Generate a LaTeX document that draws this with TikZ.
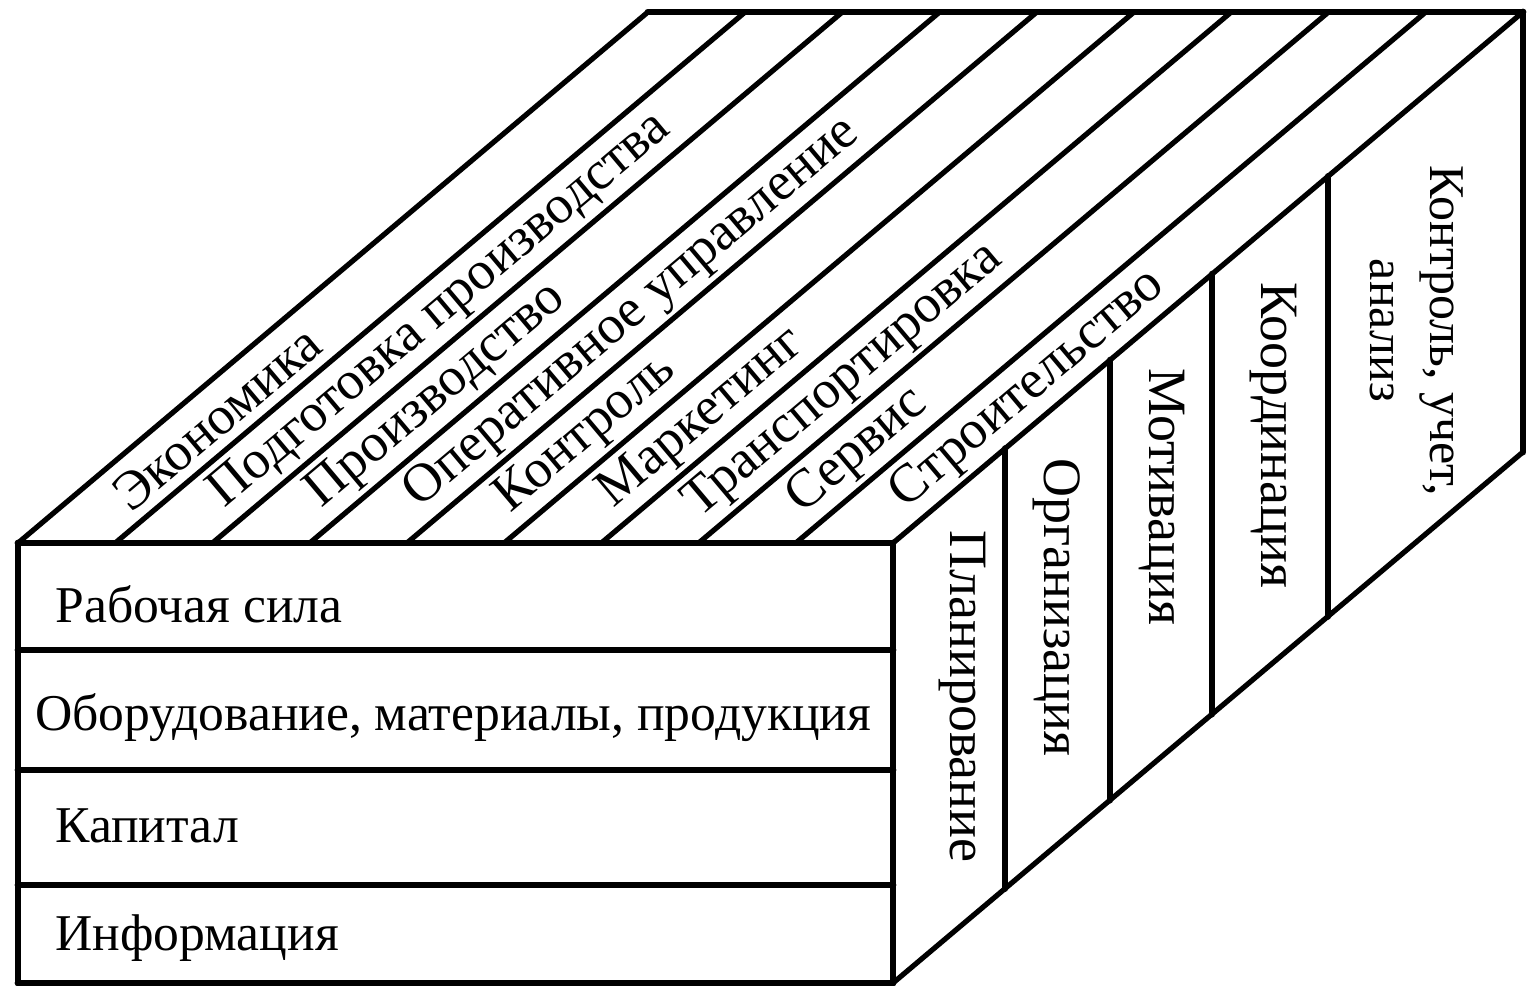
\documentclass[tikz,border=0pt]{standalone}
\usepackage{fontspec}
\setmainfont{Liberation Serif}
\usetikzlibrary{calc}
\tikzstyle{none}=[inner sep=0pt,minimum size=0pt]
\tikzstyle{frame}=[line width=3.4pt,line cap=round]
\tikzstyle{slat}=[line width=2.6pt,line cap=round]
\tikzstyle{rowtext}=[anchor=west,inner sep=0pt,font=\fontsize{25.8}{30}\selectfont]
\tikzstyle{toptext}=[anchor=west,inner sep=0pt,rotate=40.12,font=\fontsize{27}{31}\selectfont]
\tikzstyle{sidetext}=[anchor=west,inner sep=0pt,rotate=-90,align=center,font=\fontsize{27}{31}\selectfont]

\begin{document}
\begin{tikzpicture}[x=0.5pt,y=-0.5pt]
    \useasboundingbox (0,0) rectangle (1531,985);
            % front edge of the top face
            \node [style=none] (f0) at (18, 543) {};
            \node [style=none] (f1) at (115.2, 543) {};
            \node [style=none] (f2) at (212.4, 543) {};
            \node [style=none] (f3) at (309.7, 543) {};
            \node [style=none] (f4) at (406.9, 543) {};
            \node [style=none] (f5) at (504.1, 543) {};
            \node [style=none] (f6) at (601.3, 543) {};
            \node [style=none] (f7) at (698.6, 543) {};
            \node [style=none] (f8) at (795.8, 543) {};
            \node [style=none] (f9) at (893, 543) {};
            % back edge of the top face
            \node [style=none] (b0) at (648, 12) {};
            \node [style=none] (b1) at (745.2, 12) {};
            \node [style=none] (b2) at (842.4, 12) {};
            \node [style=none] (b3) at (939.7, 12) {};
            \node [style=none] (b4) at (1036.9, 12) {};
            \node [style=none] (b5) at (1134.1, 12) {};
            \node [style=none] (b6) at (1231.3, 12) {};
            \node [style=none] (b7) at (1328.6, 12) {};
            \node [style=none] (b8) at (1425.8, 12) {};
            \node [style=none] (b9) at (1523, 12) {};
            % front face
            \node [style=none] (l1) at (18, 650) {};
            \node [style=none] (l2) at (18, 770) {};
            \node [style=none] (l3) at (18, 885) {};
            \node [style=none] (l4) at (18, 983) {};
            \node [style=none] (r1) at (893, 650) {};
            \node [style=none] (r2) at (893, 770) {};
            \node [style=none] (r3) at (893, 885) {};
            \node [style=none] (r4) at (893, 983) {};
            % right face
            \node [style=none] (t1) at (1005, 448.6) {};
            \node [style=none] (t2) at (1110, 360.1) {};
            \node [style=none] (t3) at (1212, 274.1) {};
            \node [style=none] (t4) at (1328, 176.4) {};
            \node [style=none] (d1) at (1005, 888.6) {};
            \node [style=none] (d2) at (1110, 800.1) {};
            \node [style=none] (d3) at (1212, 714.1) {};
            \node [style=none] (d4) at (1328, 616.4) {};
            \node [style=none] (d5) at (1523, 452) {};

            \node [style=rowtext] (w1) at (55, 604) {Рабочая сила};
            \node [style=rowtext] (w2) at (35, 718) {Оборудование, материалы, продукция};
            \node [style=rowtext] (w3) at (55, 826) {Капитал};
            \node [style=rowtext] (w4) at (55, 938) {Информация};

            \node [style=toptext] (e0) at (119.6, 500) {Экономика};
            \node [style=toptext] (e1) at (216.8, 500) {Подготовка производства};
            \node [style=toptext] (e2) at (314, 500) {Производство};
            \node [style=toptext] (e3) at (411.3, 500) {Оперативное управление};
            \node [style=toptext] (e4) at (502.6, 505) {Контроль};
            \node [style=toptext] (e5) at (605.7, 500) {Маркетинг};
            \node [style=toptext] (e6) at (691.1, 510) {Транспортировка};
            \node [style=toptext] (e7) at (794.2, 505) {Сервис};
            \node [style=toptext] (e8) at (897.4, 500) {Строительство};

            \node [style=sidetext] (m1) at (962, 530) {Планирование};
            \node [style=sidetext] (m2) at (1057, 458) {Организация};
            \node [style=sidetext] (m3) at (1162, 368) {Мотивация};
            \node [style=sidetext] (m4) at (1273, 282) {Координация};
            \node [style=sidetext,font=\fontsize{25}{30}\selectfont] (m5) at (1417, 165) {Контроль, учет,\\ анализ};

            \draw [style=slat] (f0.center) to (b0.center);
            \draw [style=slat] (f1.center) to (b1.center);
            \draw [style=slat] (f2.center) to (b2.center);
            \draw [style=slat] (f3.center) to (b3.center);
            \draw [style=slat] (f4.center) to (b4.center);
            \draw [style=slat] (f5.center) to (b5.center);
            \draw [style=slat] (f6.center) to (b6.center);
            \draw [style=slat] (f7.center) to (b7.center);
            \draw [style=slat] (f8.center) to (b8.center);
            \draw [style=slat] (f9.center) to (b9.center);
            \draw [style=frame] (b0.center) to (b9.center);
            \draw [style=frame] (f0.center) to (f9.center);
            \draw [style=frame] (f0.center) to (l4.center);
            \draw [style=frame] (f9.center) to (r4.center);
            \draw [style=frame] (l1.center) to (r1.center);
            \draw [style=frame] (l2.center) to (r2.center);
            \draw [style=frame] (l3.center) to (r3.center);
            \draw [style=frame] (l4.center) to (r4.center);
            \draw [style=frame] (b9.center) to (d5.center);
            \draw [style=slat] (r4.center) to (d5.center);
            \draw [style=frame] (t1.center) to (d1.center);
            \draw [style=frame] (t2.center) to (d2.center);
            \draw [style=frame] (t3.center) to (d3.center);
            \draw [style=frame] (t4.center) to (d4.center);
    \end{tikzpicture}
\end{document}
